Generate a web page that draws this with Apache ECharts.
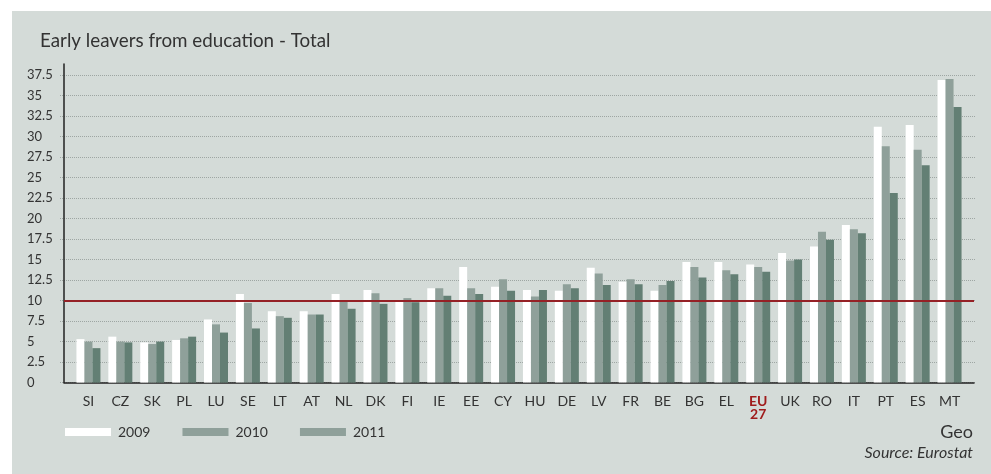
<!DOCTYPE html>
<html>
<head>
<meta charset="utf-8">
<script src="https://cdn.jsdelivr.net/npm/echarts@6/dist/echarts.min.js"></script>
<style>
html,body{margin:0;padding:0;background:#fff;}
#bg{position:absolute;left:12px;top:11px;width:979px;height:463px;background:#d4dbd8;}
#c{position:absolute;left:0;top:0;width:991px;height:474px;}
</style>
</head>
<body>
<div id="bg"></div>
<div id="c"></div>
<script>
const categories = ['SI','CZ','SK','PL','LU','SE','LT','AT','NL','DK','FI','IE','EE','CY','HU','DE','LV','FR','BE','BG','EL','EU27','UK','RO','IT','PT','ES','MT'];
const v2009 = [5.3,5.6,4.9,5.2,7.7,10.8,8.7,8.7,10.8,11.3,9.9,11.5,14.1,11.7,11.3,11.2,14.0,12.3,11.2,14.7,14.7,14.4,15.8,16.6,19.2,31.2,31.4,36.9];
const v2010 = [5.0,5.0,4.7,5.4,7.1,9.7,8.1,8.3,10.0,10.9,10.3,11.5,11.5,12.6,10.5,12.0,13.3,12.6,11.9,14.1,13.7,14.1,14.9,18.4,18.7,28.8,28.4,37.0];
const v2011 = [4.2,4.9,5.0,5.6,6.1,6.6,7.9,8.3,9.0,9.6,9.8,10.6,10.8,11.2,11.3,11.5,11.9,12.0,12.4,12.8,13.2,13.5,15.0,17.4,18.2,23.1,26.5,33.6];
const yTicks = {min: 0, max: 37.5, interval: 2.5};
const targetValue = 10;

const FONT = 'Lato, "Open Sans", sans-serif';
const TXT = '#333';
const COL2009 = '#ffffff', COL2010 = '#8fa09a', COL2011 = '#637f74';

const chart = echarts.init(document.getElementById('c'), null, {renderer: 'canvas'});
chart.setOption({
  backgroundColor: 'transparent',
  animation: false,
  textStyle: {fontFamily: FONT},
  title: [
    {text: 'Early leavers from education - Total', left: 40, top: 31, padding: 0,
     textStyle: {fontFamily: FONT, fontSize: 18.8, fontWeight: 'normal', color: TXT}},
    {text: 'Geo', right: 18, top: 423, padding: 0,
     textStyle: {fontFamily: FONT, fontSize: 18, fontWeight: 'normal', color: TXT}},
    {text: 'Source: Eurostat', right: 18, top: 445, padding: 0,
     textStyle: {fontFamily: FONT, fontSize: 16, fontStyle: 'italic', fontWeight: 'normal', color: TXT}}
  ],
  legend: {
    left: 65, top: 425, padding: 0, itemWidth: 46, itemHeight: 8, itemGap: 32,
    icon: 'rect',
    textStyle: {fontFamily: FONT, fontSize: 14, color: TXT, padding: [0,0,0,2]},
    data: [
      {name: '2009', itemStyle: {color: COL2009}},
      {name: '2010', itemStyle: {color: COL2010}},
      {name: '2011', itemStyle: {color: COL2010}}
    ]
  },
  grid: [
    {left: 60, right: 16, top: 75, height: 307.6},
    {left: 64, right: 17, top: 64, height: 318.6},
    {left: 72.5, width: 893, top: 75, height: 307.6}
  ],
  xAxis: [
    {gridIndex: 0, type: 'value', min: 0, max: 1, show: false},
    {gridIndex: 1, type: 'value', min: 0, max: 1,
     axisLine: {show: true, onZero: false, lineStyle: {color: '#222', width: 1.5}},
     axisTick: {show: false}, axisLabel: {show: false}, splitLine: {show: false}},
    {gridIndex: 2, type: 'category', data: categories,
     axisLine: {show: false}, axisTick: {show: false}, splitLine: {show: false},
     axisLabel: {
       margin: 12, fontFamily: FONT, fontSize: 14, color: TXT, interval: 0,
       formatter: function (v) { return v === 'EU27' ? '{eu|EU}\n{eu|27}' : v; },
       rich: {eu: {color: '#a01c1c', fontFamily: FONT, fontSize: 14, fontWeight: 'bold', lineHeight: 13}}
     }}
  ],
  yAxis: [
    {gridIndex: 0, type: 'value', min: yTicks.min, max: yTicks.max, interval: yTicks.interval,
     axisLine: {show: false}, axisTick: {show: false},
     axisLabel: {align: 'left', margin: 33, fontFamily: FONT, fontSize: 13, color: TXT},
     splitLine: {show: true, lineStyle: {type: 'dotted', color: '#9ea6a3', width: 1}}},
    {gridIndex: 1, type: 'value', min: 0, max: yTicks.max * 318.6 / 307.6,
     axisLine: {show: true, lineStyle: {color: '#222', width: 1.5}},
     axisTick: {show: false}, axisLabel: {show: false}, splitLine: {show: false}},
    {gridIndex: 2, type: 'value', min: yTicks.min, max: yTicks.max, show: false}
  ],
  series: [
    {name: '2009', type: 'bar', xAxisIndex: 2, yAxisIndex: 2, data: v2009, barWidth: 8, barGap: '0%',
     itemStyle: {color: COL2009}},
    {name: '2010', type: 'bar', xAxisIndex: 2, yAxisIndex: 2, data: v2010, barWidth: 8, barGap: '0%',
     itemStyle: {color: COL2010}},
    {name: '2011', type: 'bar', xAxisIndex: 2, yAxisIndex: 2, data: v2011, barWidth: 8, barGap: '0%',
     itemStyle: {color: COL2011}},
    {name: 'target', type: 'line', xAxisIndex: 1, yAxisIndex: 1, data: [], silent: true,
     markLine: {symbol: 'none', silent: true, label: {show: false},
       lineStyle: {color: '#952126', width: 2, type: 'solid'},
       data: [{yAxis: targetValue}]}}
  ]
});
</script>
</body>
</html>
